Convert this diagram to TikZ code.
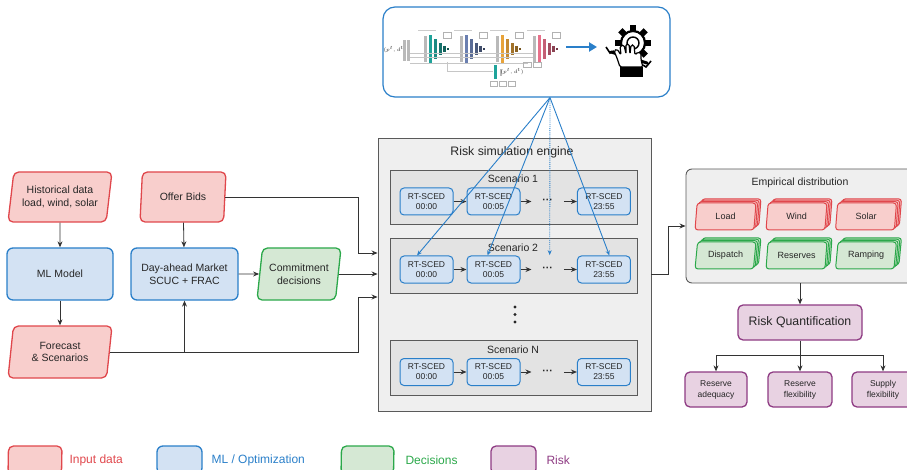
\documentclass[tikz,border=0pt]{standalone}
\usepackage{fontspec}
\setmainfont{Liberation Sans}
\usetikzlibrary{positioning, shapes.geometric, shadows, arrows.meta}

\definecolor{rojoB}{HTML}{E0474C}
\definecolor{rojoF}{HTML}{F8CECC}
\definecolor{azulB}{HTML}{2A7FC9}
\definecolor{azulF}{HTML}{D3E2F3}
\definecolor{verdeB}{HTML}{2BA84A}
\definecolor{verdeF}{HTML}{D5E8D4}
\definecolor{moradoB}{HTML}{8E3B83}
\definecolor{moradoF}{HTML}{E8D2E2}
\definecolor{grisF}{HTML}{EFEFEF}
\definecolor{grisE}{HTML}{E3E3E3}
\definecolor{grisB}{HTML}{5A5A5A}
\definecolor{texto}{HTML}{262626}
\definecolor{linea}{HTML}{333333}
\definecolor{tealNN}{HTML}{1FA39A}
\definecolor{pizarraNN}{HTML}{6A7FB0}
\definecolor{naranjaNN}{HTML}{E8A33A}
\definecolor{rosaNN}{HTML}{E8708A}

\begin{document}
\begin{tikzpicture}[
    x=1pt, y=-1pt,
    every node/.style={font=\fontsize{10.5}{12.5}\selectfont, text=texto},
    entrada/.style={trapezium, trapezium left angle=76, trapezium right angle=104, trapezium stretches body, draw=rojoB, fill=rojoF, line width=1.3pt, rounded corners=5pt, align=center, inner sep=1pt, minimum width=104pt, minimum height=50pt},
    optim/.style={rectangle, draw=azulB, fill=azulF, line width=1.3pt, rounded corners=6pt, align=center, minimum width=106pt, minimum height=52pt},
    decision/.style={entrada, draw=verdeB, fill=verdeF},
    riesgo/.style={rectangle, draw=moradoB, fill=moradoF, line width=1.3pt, rounded corners=5pt, align=center},
    sced/.style={optim, line width=1pt, rounded corners=4pt, minimum width=53pt, minimum height=27pt, inner sep=0pt, font=\fontsize{8.5}{10}\selectfont},
    escenario/.style={rectangle, draw=grisB, fill=grisE, line width=0.8pt, minimum width=247pt, minimum height=54pt},
    pila/.style 2 args={entrada, draw=#1, fill=#2, line width=1pt, rounded corners=3pt, minimum width=61pt, minimum height=27pt, font=\fontsize{9}{10}\selectfont,
      general shadow={shadow xshift=5pt, shadow yshift=4.2pt, draw=#1, fill=#2, line width=1pt},
      general shadow={shadow xshift=3.4pt, shadow yshift=2.8pt, draw=#1, fill=#2, line width=1pt},
      general shadow={shadow xshift=1.7pt, shadow yshift=1.4pt, draw=#1, fill=#2, line width=1pt}},
    flecha/.style={-{Stealth[length=6pt, width=5pt]}, line width=0.8pt, draw=linea},
    flechaIA/.style={-{Stealth[length=5pt, width=4pt]}, line width=0.9pt, draw=azulB}
  ]
  \useasboundingbox (0,0) rectangle (907,470);

  % ---------------- Modelo de aprendizaje (arriba) ----------------
  \node (redIA) [rectangle, draw=azulB, fill=white, line width=1.2pt, rounded corners=12pt, minimum width=287pt, minimum height=90pt] at (526.5,52) {};

  % esquema de la red: entrada
  \node (entradaNN) [font=\fontsize{3.5}{4}\selectfont, inner sep=0pt] at (395,50) {$(p^t,d^t)$};
  \fill[gray!55] (403,40) rectangle (406,61);
  \fill[gray!55] (407,40) rectangle (410,61);
  % bloques codificador / decodificadores
  \foreach \x/\col in {424/tealNN, 460/pizarraNN, 496/naranjaNN, 533/rosaNN} {
    \draw[gray!45, line width=0.3pt] (410,53) -- (\x,53);
    \draw[gray!45, line width=0.3pt] (410,57) -- (\x,57);
    \draw[gray!40, line width=0.5pt] (\x-6,30) -- (\x+12,30);
    \fill[gray!55] (\x,36) rectangle (\x+3,62);
    \fill[\col] (\x+5,35) rectangle (\x+8,63);
    \fill[\col!85!black] (\x+10,39) rectangle (\x+13,59);
    \fill[\col!70!black] (\x+15,43) rectangle (\x+18,55);
    \fill[\col!60!black] (\x+19,46) rectangle (\x+22,52);
    \fill[\col!50!black] (\x+23,48) rectangle (\x+25,50);
    \draw[gray!60, line width=0.3pt, fill=white] (\x+19,32) rectangle (\x+27,38);
  }
  % rama inferior
  \draw[gray!45, line width=0.3pt] (447,62) -- (447,71) -- (493,71);
  \draw[gray!45, line width=0.3pt] (410,63) -- (528,63);
  \fill[tealNN] (494,65) rectangle (497,79);
  \fill[gray!55] (500,69) rectangle (502,76);
  \node (salidaNN) [font=\fontsize{3.5}{4}\selectfont, inner sep=0pt] at (512,72) {$(p^t,d^t)$};
  \foreach \x in {490,499,508}
    \draw[gray!60, line width=0.3pt] (\x,81) rectangle (\x+7,86);
  \foreach \x in {523,533}
    \draw[gray!60, line width=0.3pt] (\x,62) rectangle (\x+8,67);

  % flecha hacia la toma de decisiones
  \draw[-{Triangle[length=8pt, width=9pt]}, azulB, line width=2.6pt] (566,47) -- (597,47);

  % icono: engranaje, llave y mano
  \draw[line width=2.2pt] (633,43) circle (12);
  \foreach \a in {0,45,...,315}
    \fill[rotate around={\a:(633,43)}] (630,25) rectangle (636,32);
  \draw[line width=1.4pt] (633,43) circle (6);
  \draw[line width=3pt, line cap=round] (611,52) -- (647,63);
  \draw[line width=1.6pt] (606,47) -- (610,53) -- (614,51);
  \draw[line width=1.6pt] (651,61) -- (646,67) -- (643,65);
  \draw[fill=white, line width=1.2pt, rounded corners=1.5pt] (620,67) -- (617,58) -- (614,51) -- (617,49) -- (621,55) -- (620,46) -- (624,45) -- (626,54) -- (626,44) -- (629,44) -- (630,54) -- (631,45) -- (634,45) -- (635,55) -- (638,52) -- (641,53) -- (641,60) -- (643,67) -- cycle;
  \fill (620,67) rectangle (643,77);

  % ---------------- Datos y modelos (izquierda) ----------------
  \node (datosHist) [entrada] at (60,197) {Historical data\\load, wind, solar};
  \node (modeloML) [optim] at (60,274) {ML Model};
  \node (pronostico) [entrada, minimum height=52pt] at (60,352) {Forecast\\\& Scenarios};
  \node (ofertas) [entrada, minimum width=86pt] at (183,197) {Offer Bids};
  \node (mercadoDA) [optim, minimum width=107pt] at (184.5,274) {Day-ahead Market\\SCUC + FRAC};
  \node (compromiso) [decision, minimum width=84pt, minimum height=52pt] at (299,274) {Commitment\\decisions};

  \draw[flecha] (datosHist) -- (modeloML);
  \draw[flecha] (modeloML) -- (pronostico);
  \draw[flecha] (ofertas) -- (mercadoDA);
  \draw[flecha] (mercadoDA) -- (compromiso);
  \draw[flecha] (mercadoDA.south |- pronostico.east) -- (mercadoDA.south);

  % ---------------- Motor de simulacion de riesgo ----------------
  \node (motor) [rectangle, draw=grisB, fill=grisF, line width=0.9pt, minimum width=273pt, minimum height=273pt] at (514.5,274.5) {};
  \node (tituloMotor) [font=\fontsize{12.3}{14}\selectfont] at (512,152) {Risk simulation engine};

  \coordinate (entradaA) at (motor.west |- 0,253);
  \coordinate (entradaC) at (motor.west |- 0,297);
  \draw[flecha] (ofertas.east) -| ([xshift=-19pt]entradaA) -- (entradaA);
  \draw[flecha] (compromiso.east) -- (compromiso.east -| motor.west);
  \draw[flecha] (pronostico.east) -| ([xshift=-19pt]entradaC) -- (entradaC);

  % Escenario 1
  \node (esc1) [escenario] at (513.5,197) {};
  \node (tituloEsc1) at (513,179) {Scenario 1};
  \node (s11) [sced] at (426.5,201.5) {RT-SCED\\00:00};
  \node (s12) [sced, right=13pt of s11] {RT-SCED\\00:05};
  \node (puntos1) [right=11pt of s12, minimum width=32pt, inner sep=0pt] {\bfseries ···};
  \node (s13) [sced, right=13pt of puntos1] {RT-SCED\\23:55};
  \draw[flecha] (s11) -- (s12);
  \draw[flecha] (s12) -- (puntos1);
  \draw[flecha] (puntos1) -- (s13);

  % Escenario 2
  \node (esc2) [escenario, minimum height=55pt] at (513.5,265.5) {};
  \node (tituloEsc2) at (513,248) {Scenario 2};
  \node (s21) [sced] at (426.5,269.5) {RT-SCED\\00:00};
  \node (s22) [sced, right=13pt of s21] {RT-SCED\\00:05};
  \node (puntos2) [right=11pt of s22, minimum width=32pt, inner sep=0pt] {\bfseries ···};
  \node (s23) [sced, right=13pt of puntos2] {RT-SCED\\23:55};
  \draw[flecha] (s21) -- (s22);
  \draw[flecha] (s22) -- (puntos2);
  \draw[flecha] (puntos2) -- (s23);

  % puntos verticales entre escenarios
  \fill[texto] (515,307) circle (1.7);
  \fill[texto] (515,314.5) circle (1.7);
  \fill[texto] (515,322) circle (1.7);

  % Escenario N
  \node (escN) [escenario, minimum height=55pt] at (513.5,367.5) {};
  \node (tituloEscN) at (513,350) {Scenario N};
  \node (sN1) [sced] at (426.5,372) {RT-SCED\\00:00};
  \node (sN2) [sced, right=13pt of sN1] {RT-SCED\\00:05};
  \node (puntosN) [right=11pt of sN2, minimum width=32pt, inner sep=0pt] {\bfseries ···};
  \node (sN3) [sced, right=13pt of puntosN] {RT-SCED\\23:55};
  \draw[flecha] (sN1) -- (sN2);
  \draw[flecha] (sN2) -- (puntosN);
  \draw[flecha] (puntosN) -- (sN3);

  % el modelo alimenta cada despacho del escenario 2
  \coordinate (origenIA) at ([xshift=23.5pt]redIA.south);
  \draw[flechaIA] (origenIA) -- ([xshift=-9.5pt]s21.north);
  \draw[flechaIA] (origenIA) -- ([xshift=-6pt]s22.north);
  \draw[flechaIA] (origenIA) -- ([xshift=5.5pt]s23.north);
  \draw[flechaIA, densely dotted] (origenIA) -- ([xshift=2pt, yshift=12pt]puntos2.north);

  % ---------------- Distribucion empirica y riesgo ----------------
  \node (distEmp) [rectangle, draw=grisB, fill=grisF, line width=0.9pt, rounded corners=6pt, minimum width=228pt, minimum height=114pt] at (800,226) {};
  \node (tituloDist) at (800,183) {Empirical distribution};
  \draw[flecha] (motor.east) -- ++(17,0) |- (distEmp.west);

  \node (carga) [pila={rojoB}{rojoF}] at (725.5,216.5) {Load};
  \node (viento) [pila={rojoB}{rojoF}] at (796.5,216.5) {Wind};
  \node (solar) [pila={rojoB}{rojoF}] at (866,216.5) {Solar};
  \node (despacho) [pila={verdeB}{verdeF}] at (725.5,255.5) {Dispatch};
  \node (reservas) [pila={verdeB}{verdeF}] at (796.5,255.5) {Reserves};
  \node (rampa) [pila={verdeB}{verdeF}] at (866,255.5) {Ramping};

  \node (cuantRiesgo) [riesgo, minimum width=124pt, minimum height=35pt, font=\fontsize{12.3}{14}\selectfont] at (800,322.5) {Risk Quantification};
  \node (adecuacion) [riesgo, minimum width=62pt, minimum height=35pt, inner sep=1pt, font=\fontsize{8.5}{11}\selectfont] at (716,389.5) {Reserve\\adequacy};
  \node (flexRes) [riesgo, minimum width=64pt, minimum height=35pt, inner sep=1pt, font=\fontsize{8.5}{11}\selectfont] at (800,389.5) {Reserve\\flexibility};
  \node (flexSum) [riesgo, minimum width=62pt, minimum height=35pt, inner sep=1pt, font=\fontsize{8.5}{11}\selectfont] at (883,389.5) {Supply\\flexibility};

  \draw[flecha] (distEmp.south) -- (cuantRiesgo.north);
  \draw[flecha] (cuantRiesgo.south) -- (flexRes.north);
  \draw[flecha] (cuantRiesgo.south) ++(0,15) -| (adecuacion.north);
  \draw[flecha] (cuantRiesgo.south) ++(0,15) -| (flexSum.north);

  % ---------------- Leyenda ----------------
  \node (leyEntrada) [entrada, minimum width=54pt, minimum height=28pt] at (35,460) {};
  \node (txtEntrada) [right, text=rojoB, font=\fontsize{12}{14}\selectfont] at (66,460) {Input data};
  \node (leyOptim) [optim, minimum width=45pt, minimum height=28pt] at (179.5,460) {};
  \node (txtOptim) [right, text=azulB, font=\fontsize{12}{14}\selectfont] at (208,460) {ML / Optimization};
  \node (leyDecision) [decision, minimum width=53pt, minimum height=28pt] at (367.5,460) {};
  \node (txtDecision) [right, text=verdeB, font=\fontsize{12}{14}\selectfont] at (402,460) {Decisions};
  \node (leyRiesgo) [riesgo, minimum width=45pt, minimum height=28pt] at (513.5,460) {};
  \node (txtRiesgo) [right, text=moradoB, font=\fontsize{12}{14}\selectfont] at (543,460) {Risk};

\end{tikzpicture}
\end{document}
